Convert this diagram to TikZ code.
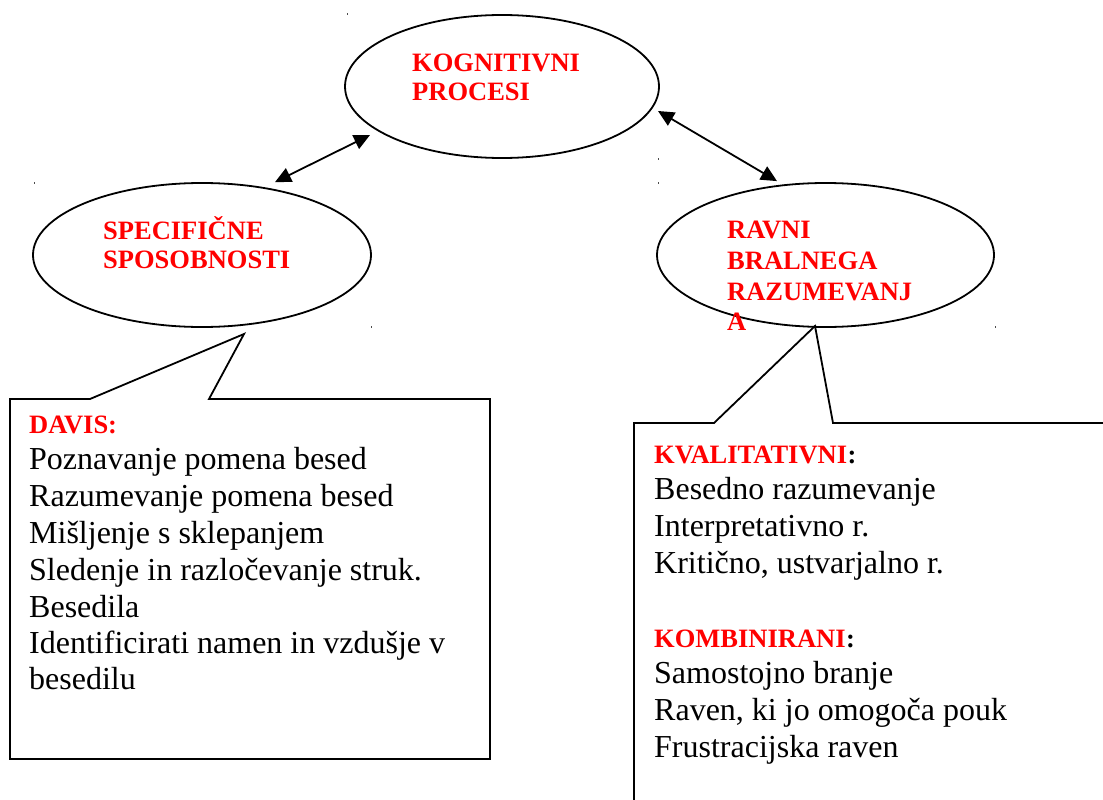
\documentclass[tikz,border=0pt]{standalone}
\usepackage{fontspec}
\setmainfont{Liberation Serif}
\usetikzlibrary{shapes.geometric,arrows.meta}
\definecolor{hred}{RGB}{255,0,0}
\begin{document}
\begin{tikzpicture}[x=1pt,y=-1pt,
  bubble/.style={ellipse, draw, line width=1.8pt, inner sep=0pt},
  head/.style={anchor=base west, inner sep=0pt, text=hred, font=\fontsize{26.5}{30}\selectfont\bfseries},
  colon/.style={anchor=base west, inner sep=0pt, font=\fontsize{26.5}{30}\selectfont\bfseries},
  body/.style={anchor=base west, inner sep=0pt, font=\fontsize{32}{37}\selectfont},
  link/.style={line width=1.8pt, {Triangle[length=16pt,width=15pt]}-{Triangle[length=16pt,width=15pt]}},
  callout/.style={line width=1.8pt, line join=miter},
  speck/.style={fill=black!70}]
\useasboundingbox (0,0) rectangle (1103,800);
\clip (0,0) rectangle (1103,800);

% ellipses
\node[bubble, minimum width=314pt, minimum height=143pt] (kp) at (502,86.5) {};
\node[bubble, minimum width=338pt, minimum height=144pt] (ss) at (202,255) {};
\node[bubble, minimum width=337pt, minimum height=144pt] (rb) at (825.5,255) {};

% ellipse labels
\node[head] (kp1) at (412,71) {KOGNITIVNI};
\node[head] (kp2) at (412,100) {PROCESI};
\node[head] (ss1) at (103,239) {SPECIFIČNE};
\node[head] (ss2) at (103,268) {SPOSOBNOSTI};
\node[head] (rb1) at (727,238) {RAVNI};
\node[head] (rb2) at (727,269) {BRALNEGA};
\node[head] (rb3) at (727,300) {RAZUMEVANJ};
\node[head] (rb4) at (727,330) {A};

% arrows
\draw[link] ([shift={(-132,48.5)}]kp.center) -- ([xshift=73pt]ss.north);
\draw[link] ([shift={(156,24.5)}]kp.center) -- ([shift={(-48.5,-1)}]rb.north);

% callouts
\coordinate (lt) at ([shift={(42,79)}]ss.center);
\draw[callout] (lt) -- (209,399) -- (490,399) -- (490,759) -- (10,759) -- (10,399) -- (90,399) -- cycle;
\coordinate (rt) at ([shift={(-10.5,71)}]rb.center);
\draw[callout] (1120,423) -- (833,423) -- (rt) -- (714,423) -- (634,423) -- (634,820);

% left box text
\node[head] (dv) at (29,433) {DAVIS:};
\node[body] (d1) at (29,469) {Poznavanje pomena besed};
\node[body] (d2) at (29,506) {Razumevanje pomena besed};
\node[body] (d3) at (29,543) {Mišljenje s sklepanjem};
\node[body] (d4) at (29,580) {Sledenje in razločevanje struk.};
\node[body] (d5) at (29,617) {Besedila};
\node[body] (d6) at (29,653) {Identificirati namen in vzdušje v};
\node[body] (d7) at (29,689) {besedilu};

% right box text
\node[head] (kv) at (654,463) {KVALITATIVNI};
\node[colon] (kvc) at (kv.base east) {:};
\node[body] (k1) at (654,499) {Besedno razumevanje};
\node[body] (k2) at (654,536) {Interpretativno r.};
\node[body] (k3) at (654,573) {Kritično, ustvarjalno r.};
\node[head] (kb) at (654,647) {KOMBINIRANI};
\node[colon] (kbc) at (kb.base east) {:};
\node[body] (b1) at (654,683) {Samostojno branje};
\node[body] (b2) at (654,720) {Raven, ki jo omogoča pouk};
\node[body] (b3) at (654,757) {Frustracijska raven};

% specks
\fill[speck] (346.5,13.5) rectangle (348,15);
\fill[speck] (657.5,158) rectangle (659,159.5);
\fill[speck] (657.5,182) rectangle (659,183.5);
\fill[speck] (33.5,182) rectangle (35,183.5);
\fill[speck] (370.5,326) rectangle (372,327.5);
\fill[speck] (994.5,326) rectangle (996,327.5);
\end{tikzpicture}
\end{document}
